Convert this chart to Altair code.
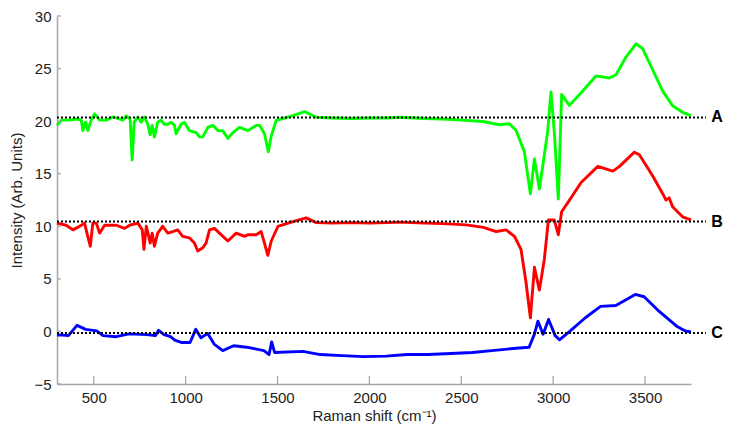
import altair as alt
import pandas as pd

# ---- data ----
a_x = [300, 324, 369, 405, 432, 441, 455, 468, 486, 505, 532, 568, 604, 659, 677, 698, 709, 720, 740, 758,
       776, 794, 807, 818, 830, 848, 866, 884, 903, 921, 939, 948, 975, 993, 1020, 1057, 1075, 1093, 1121, 1148,
       1175, 1202, 1230, 1257, 1293, 1339, 1384, 1403, 1429, 1450, 1466, 1493, 1540, 1584, 1647, 1711, 1800, 1900,
       2000, 2100, 2164, 2300, 2400, 2500, 2618, 2707, 2761, 2798, 2843, 2876, 2898, 2925, 2952, 2970, 2988, 3006,
       3028, 3046, 3088, 3152, 3233, 3305, 3342, 3396, 3451, 3487, 3541, 3596, 3650, 3704, 3750]
a_y = [19.6, 20.1, 20.1, 20.2, 20.1, 19.1, 19.9, 19.1, 20.1, 20.7, 20.1, 20.1, 20.4, 20.1, 20.5, 20.2, 16.3, 19.9,
       20.4, 19.9, 20.4, 19.7, 18.7, 19.6, 18.5, 19.9, 20.1, 19.7, 19.7, 19.9, 19.6, 18.8, 19.7, 19.9, 19.1, 18.9,
       18.5, 18.5, 19.4, 19.6, 19.1, 19.1, 18.36, 18.9, 19.4, 19.1, 19.6, 19.6, 18.8, 17.1, 18.6, 20.07, 20.3,
       20.53, 20.9, 20.37, 20.3, 20.25, 20.3, 20.3, 20.37, 20.25, 20.2, 20.1, 19.97, 19.66, 19.75, 19.14, 17.1,
       13.08, 16.4, 13.55, 16.8, 19.0, 22.77, 19.0, 12.6, 22.55, 21.5, 22.7, 24.3, 24.1, 24.41, 26.1, 27.36, 26.9,
       24.9, 22.86, 21.46, 20.84, 20.53]

b_x = [300, 350, 387, 423, 450, 463, 481, 495, 514, 532, 559, 623, 668, 695, 740, 764, 773, 786, 799, 807, 818,
       830, 848, 875, 903, 930, 957, 984, 1020, 1048, 1066, 1093, 1111, 1130, 1157, 1184, 1230, 1275, 1321, 1339,
       1384, 1411, 1429, 1447, 1466, 1502, 1584, 1656, 1711, 1800, 1900, 2000, 2100, 2164, 2300, 2400, 2527, 2620,
       2690, 2744, 2789, 2825, 2852, 2876, 2898, 2925, 2952, 2974, 3006, 3028, 3046, 3088, 3152, 3243, 3325, 3361,
       3442, 3469, 3541, 3596, 3614, 3631, 3650, 3704, 3750]
b_y = [10.3, 10.1, 9.66, 10.0, 10.3, 9.35, 8.1, 10.3, 10.3, 9.35, 10.1, 10.1, 9.8, 10.1, 10.3, 9.66, 7.8, 10.0,
       9.04, 8.4, 9.35, 8.1, 9.35, 10.0, 9.35, 9.5, 9.66, 9.04, 8.9, 8.4, 7.65, 7.96, 8.4, 9.66, 9.8, 9.35, 8.6,
       9.35, 9.04, 9.2, 9.2, 9.5, 8.4, 7.24, 8.6, 9.98, 10.45, 10.8, 10.35, 10.3, 10.35, 10.3, 10.35, 10.4, 10.3,
       10.25, 10.13, 9.9, 9.5, 9.66, 9.05, 7.8, 4.7, 1.29, 6.1, 3.93, 6.87, 10.6, 10.6, 9.2, 11.38, 12.46, 14.17,
       15.7, 15.25, 15.7, 17.05, 16.8, 14.8, 13.1, 12.5, 12.7, 11.85, 10.9, 10.6]

c_x = [300, 315, 362, 409, 456, 516, 551, 622, 693, 788, 835, 853, 882, 918, 941, 976, 1024, 1055, 1083, 1120,
       1155, 1202, 1261, 1332, 1426, 1454, 1468, 1484, 1638, 1733, 1850, 1969, 2090, 2206, 2320, 2443, 2560, 2680,
       2798, 2869, 2898, 2917, 2945, 2975, 3011, 3034, 3093, 3175, 3258, 3341, 3447, 3495, 3577, 3672, 3719, 3750]
c_y = [-0.35, -0.33, -0.4, 0.58, 0.2, 0.05, -0.4, -0.5, -0.23, -0.3, -0.4, 0.1, -0.3, -0.5, -0.82, -1.05, -1.05,
       0.2, -0.6, -0.2, -1.2, -1.82, -1.36, -1.5, -1.82, -2.2, -1.0, -2.0, -1.9, -2.2, -2.3, -2.4, -2.35, -2.2,
       -2.2, -2.1, -2.0, -1.8, -1.6, -1.5, -0.26, 0.98, -0.26, 1.14, -0.4, -0.8, 0.05, 1.3, 2.38, 2.47, 3.52, 3.3,
       1.9, 0.5, 0.05, -0.05]

series_names = ["A", "B", "C"]
series_colors = ["#00ff00", "#ff0000", "#0000ff"]
baselines = [20.35, 10.45, -0.15]
baseline_start = 300
baseline_end = 3831
label_x = 3891

x_ticks = [500, 1000, 1500, 2000, 2500, 3000, 3500]
y_ticks = [-5, 0, 5, 10, 15, 20, 25, 30]

# ---- tables ----
rows = []
for name, xs, ys in zip(series_names, [a_x, b_x, c_x], [a_y, b_y, c_y]):
    for xv, yv in zip(xs, ys):
        rows.append({"series": name, "x": xv, "y": yv})
df = pd.DataFrame(rows)

base_df = pd.DataFrame({"series": series_names, "y": baselines,
                        "x0": [baseline_start] * 3, "x1": [baseline_end] * 3,
                        "lx": [label_x] * 3})
xt_df = pd.DataFrame({"t": x_ticks})
yt_df = pd.DataFrame({"t": y_ticks})

W, H = 634, 368
FONT = "Liberation Sans"
AXIS_GREY = "#a6a6a6"

xscale = alt.Scale(domain=[300, 3750], nice=False, zero=False)
yscale = alt.Scale(domain=[-5, 30], nice=False, zero=False)

lines = alt.Chart(df).mark_line(strokeWidth=2.9, strokeJoin="round").encode(
    x=alt.X("x:Q", scale=xscale,
            axis=alt.Axis(values=x_ticks, title="Raman shift (cm⁻¹)", ticks=False,
                          labelPadding=6, titlePadding=3, format="d")),
    y=alt.Y("y:Q", scale=yscale,
            axis=alt.Axis(values=y_ticks, title="Intensity (Arb. Units)", ticks=False,
                          labelPadding=6, titlePadding=9)),
    color=alt.Color("series:N", scale=alt.Scale(domain=series_names, range=series_colors), legend=None),
)

dotted = alt.Chart(base_df).mark_rule(strokeDash=[2, 2], strokeWidth=2, color="black").encode(
    x=alt.X("x0:Q", scale=xscale), x2="x1:Q", y=alt.Y("y:Q", scale=yscale)
)

labels = alt.Chart(base_df).mark_text(font=FONT, fontSize=16, fontWeight="bold", color="black",
                                      align="center", baseline="middle").encode(
    x=alt.X("lx:Q", scale=xscale), y=alt.Y("y:Q", scale=yscale), text="series:N"
)

xticks = alt.Chart(xt_df).mark_rule(color=AXIS_GREY, strokeWidth=1.3).encode(
    x=alt.X("t:Q", scale=xscale), y=alt.value(H), y2=alt.value(H - 8)
)
yticks = alt.Chart(yt_df).mark_rule(color=AXIS_GREY, strokeWidth=1.3).encode(
    y=alt.Y("t:Q", scale=yscale), x=alt.value(0), x2=alt.value(4)
)

chart = alt.layer(lines, dotted, labels, xticks, yticks).properties(
    width=W, height=H,
    autosize=alt.AutoSizeParams(type="none"),
    padding={"left": 49, "top": 8, "right": 34, "bottom": 42},
).configure_view(stroke=None).configure_axis(
    grid=False, domainColor=AXIS_GREY, domainWidth=1.5,
    labelFont=FONT, labelFontSize=15, labelColor="#222222",
    titleFont=FONT, titleFontSize=15, titleFontWeight="normal", titleColor="#222222",
)

chart.save("out.html", embed_options={"renderer": "svg", "actions": False})
